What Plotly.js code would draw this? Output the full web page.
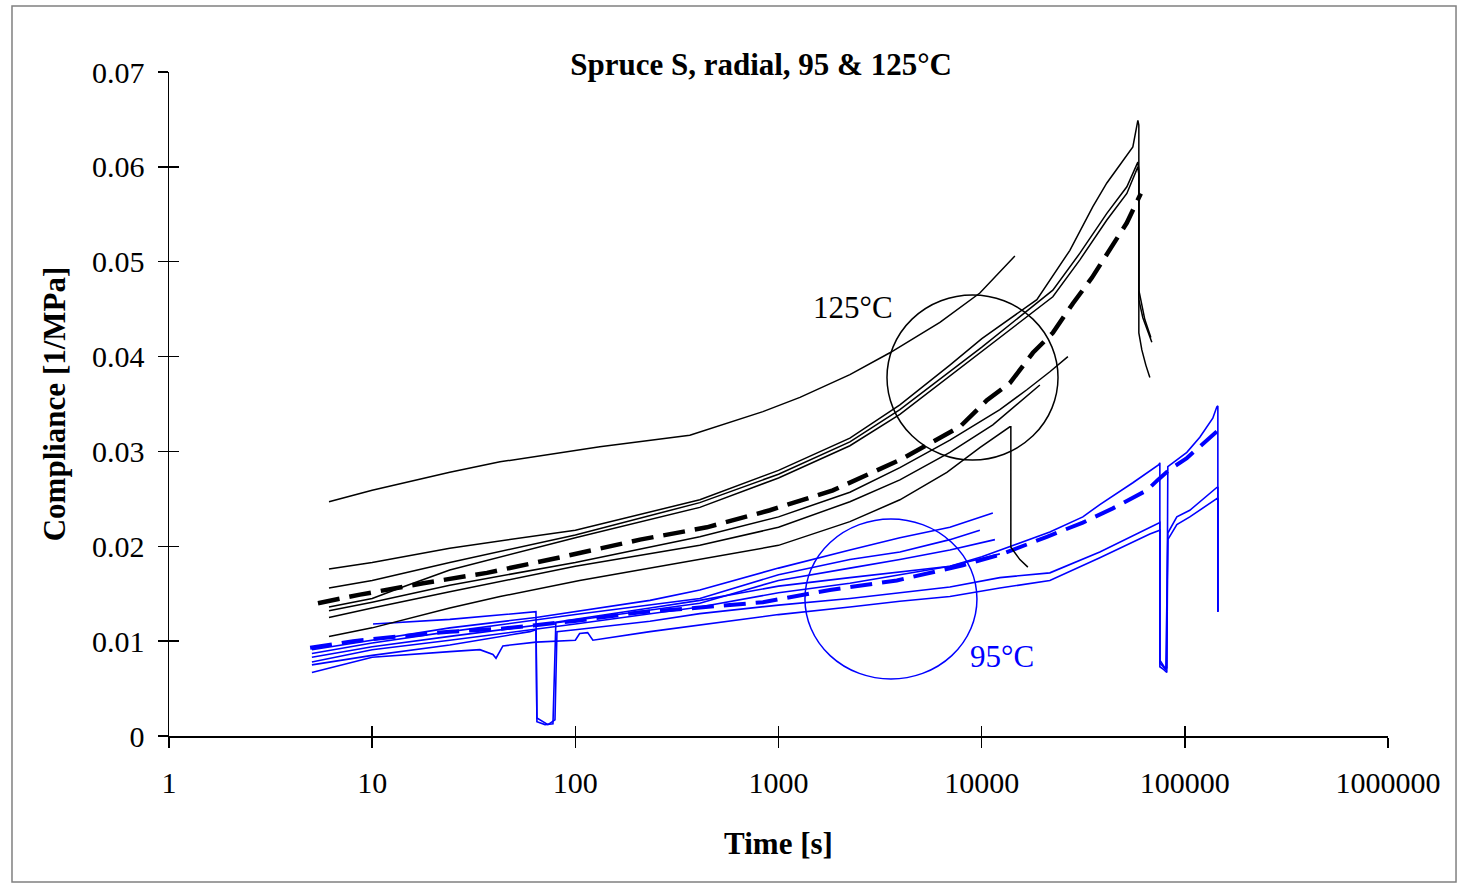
<!DOCTYPE html>
<html>
<head>
<meta charset="utf-8">
<script src="https://cdn.plot.ly/plotly-3.0.1.min.js"></script>
<style>html,body{margin:0;padding:0;background:#fff;}#chart{width:1458px;height:885px;}</style>
</head>
<body>
<div id="chart"></div>
<script>
// ---- 125 °C (black) ----
const t_b1 = [6.13, 10, 24.1, 42.6, 132, 366, 838, 1275, 2246, 3534, 6229, 9797, 14570];
const c_b1 = [0.0247, 0.0259, 0.0278, 0.0289, 0.0305, 0.0317, 0.0342, 0.0357, 0.0381, 0.0404, 0.0436, 0.0467, 0.0506];

const t_g1 = [6.13, 10, 24.1, 100, 410, 1000, 2246, 3958, 6976, 10020, 18690, 27180, 35260, 41320, 47880, 55480, 58720, 59380, 59380, 61430, 64280, 67270];
const c_g1 = [0.0176, 0.0183, 0.0198, 0.0217, 0.0249, 0.0280, 0.0314, 0.0349, 0.0391, 0.0419, 0.0460, 0.0512, 0.0558, 0.0583, 0.0602, 0.0621, 0.0649, 0.0644, 0.0425, 0.0407, 0.0391, 0.0378];

const t_g2 = [6.13, 10, 24.1, 100, 410, 1000, 2246, 3958, 10020, 22400, 30440, 41320, 51830, 58720, 59380, 59380, 62130, 65760, 68810];
const c_g2 = [0.0156, 0.0164, 0.0183, 0.0212, 0.0246, 0.0276, 0.0310, 0.0344, 0.0410, 0.0470, 0.0509, 0.0551, 0.0579, 0.0605, 0.0597, 0.0460, 0.0441, 0.0426, 0.0415];

const t_g3 = [6.13, 10, 13.7, 24.1, 100, 410, 1000, 2246, 3958, 10020, 22400, 30440, 41320, 51830, 58720, 59380, 59380, 63550, 68040];
const c_g3 = [0.0136, 0.0145, 0.0156, 0.0175, 0.0209, 0.0241, 0.0272, 0.0306, 0.0339, 0.0405, 0.0463, 0.0502, 0.0544, 0.0572, 0.0600, 0.0592, 0.0470, 0.0439, 0.0420];

const t_l1 = [6.13, 10, 24.1, 100, 410, 1000, 2246, 3958, 6976, 12290, 16690, 21660, 26570];
const c_l1 = [0.0132, 0.0141, 0.0159, 0.0183, 0.0210, 0.0231, 0.0257, 0.0283, 0.0312, 0.0344, 0.0365, 0.0384, 0.0400];

const t_l2 = [6.13, 10, 24.1, 100, 410, 1000, 2246, 3958, 6976, 11350, 19340];
const c_l2 = [0.0125, 0.0135, 0.0152, 0.0179, 0.0201, 0.0220, 0.0247, 0.0270, 0.0299, 0.0328, 0.0370];

const t_l3 = [6.13, 10, 24.1, 42.6, 105, 327, 1000, 2246, 3958, 6741, 9797, 13760, 13920, 13920, 14570, 15420, 16880];
const c_l3 = [0.0105, 0.0114, 0.0135, 0.0147, 0.0164, 0.0183, 0.0201, 0.0226, 0.0249, 0.0278, 0.0304, 0.0326, 0.0326, 0.0199, 0.0193, 0.0186, 0.0178];

const t_mean125 = [5.41, 8.71, 17.8, 36.7, 75.0, 208, 444, 907, 1852, 3958, 7812, 10610, 13760, 17870, 22400, 28110, 34860, 41800, 51830, 60740];
const c_mean125 = [0.0140, 0.0149, 0.0161, 0.0172, 0.0186, 0.0207, 0.0220, 0.0238, 0.0259, 0.0291, 0.0326, 0.0354, 0.0372, 0.0404, 0.0425, 0.0456, 0.0483, 0.0509, 0.0541, 0.0572];

// ---- 95 °C (blue) ----
const t_a1 = [5.05, 10, 24.1, 64.0, 100, 233, 410, 1000, 2246, 3958, 6976, 11350];
const c_a1 = [0.0091, 0.0101, 0.0114, 0.0125, 0.0131, 0.0143, 0.0154, 0.0177, 0.0196, 0.0209, 0.0220, 0.0235];

const t_a2 = [5.05, 10, 24.1, 100, 410, 1000, 2246, 3958, 6976, 9797];
const c_a2 = [0.0087, 0.0098, 0.0110, 0.0128, 0.0145, 0.0170, 0.0186, 0.0194, 0.0207, 0.0217];

const t_a3 = [5.05, 10, 24.1, 100, 410, 1000, 2246, 3958, 6976, 11620];
const c_a3 = [0.0083, 0.0094, 0.0105, 0.0122, 0.0140, 0.0164, 0.0177, 0.0186, 0.0196, 0.0207];

const t_a4 = [5.05, 10, 24.1, 100, 410, 1000, 2246, 3958, 6976, 12290];
const c_a4 = [0.0078, 0.0091, 0.0101, 0.0118, 0.0136, 0.0151, 0.0161, 0.0170, 0.0179, 0.0192];

const t_u = [10.1, 24.1, 64.0, 64.7, 70.9, 77.6, 80.2, 100, 233, 410, 1000, 2246, 3958, 6976, 10020, 13760, 21660, 31480, 38160, 55480, 74470, 75340, 75340, 78810, 81530, 82460, 102300, 118500, 137300, 143700, 145400, 145400];
const c_u = [0.0118, 0.0123, 0.0131, 0.0015, 0.0012, 0.0013, 0.0120, 0.0123, 0.0135, 0.0143, 0.0158, 0.0167, 0.0173, 0.0179, 0.0189, 0.0200, 0.0215, 0.0231, 0.0244, 0.0267, 0.0286, 0.0288, 0.0073, 0.0070, 0.0067, 0.0284, 0.0299, 0.0315, 0.0335, 0.0347, 0.0348, 0.0131];

const t_p1 = [5.05, 10, 24.1, 59.8, 64.0, 64.7, 73.3, 79.4, 81.2, 100, 233, 410, 1000, 2246, 3958, 6976, 12290, 21660, 38160, 67270, 74470, 75340, 75340, 79700, 81530, 82460, 91330, 105800, 143700, 145400, 145400];
const c_p1 = [0.0075, 0.0085, 0.0096, 0.0110, 0.0112, 0.0019, 0.0012, 0.0017, 0.0110, 0.0112, 0.0121, 0.0129, 0.0138, 0.0145, 0.0151, 0.0157, 0.0167, 0.0172, 0.0194, 0.0220, 0.0225, 0.0225, 0.0080, 0.0072, 0.0072, 0.0214, 0.0231, 0.0238, 0.0262, 0.0262, 0.0131];

const t_p2 = [5.05, 10, 24.1, 33.9, 39.3, 40.7, 44.0, 64.0, 100, 105, 115, 122, 233, 410, 1000, 2246, 3958, 6976, 12290, 21660, 38160, 67270, 74470, 75340, 75340, 80610, 82460, 91330, 105800, 143700, 145400, 145400];
const c_p2 = [0.0067, 0.0083, 0.0089, 0.0091, 0.0086, 0.0082, 0.0095, 0.0099, 0.0101, 0.0108, 0.0109, 0.0101, 0.0110, 0.0117, 0.0128, 0.0136, 0.0142, 0.0147, 0.0156, 0.0164, 0.0188, 0.0213, 0.0217, 0.0217, 0.0077, 0.0070, 0.0207, 0.0223, 0.0231, 0.0251, 0.0251, 0.0131];

const t_mean95 = [4.95, 8.05, 13.7, 24.1, 42.6, 97.3, 201, 410, 838, 1791, 3825, 8083, 12290, 20940, 31480, 44230, 65020, 73640, 84360, 102300, 122600, 143700];
const c_mean95 = [0.0093, 0.0100, 0.0105, 0.0110, 0.0113, 0.0121, 0.0130, 0.0135, 0.0141, 0.0154, 0.0164, 0.0180, 0.0191, 0.0210, 0.0225, 0.0240, 0.0259, 0.0270, 0.0281, 0.0293, 0.0308, 0.0321];

// ---- axis ticks ----
const xTickVals = [1, 10, 100, 1000, 10000, 100000, 1000000];
const xTickText = ['1', '10', '100', '1000', '10000', '100000', '1000000'];
const yTickVals = [0, 0.01, 0.02, 0.03, 0.04, 0.05, 0.06, 0.07];
const yTickText = ['0', '0.01', '0.02', '0.03', '0.04', '0.05', '0.06', '0.07'];

const BLACK = '#000000', BLUE = '#0000FF';
const FONT = 'Liberation Serif, Times New Roman, serif';

function line(t, c, color, width, dash) {
  return {x: t, y: c, type: 'scatter', mode: 'lines', hoverinfo: 'skip', showlegend: false,
          line: {color: color, width: width, dash: dash || 'solid'}};
}

const traces = [
  line(t_a1, c_a1, BLUE, 1.6), line(t_a2, c_a2, BLUE, 1.6), line(t_a3, c_a3, BLUE, 1.6),
  line(t_a4, c_a4, BLUE, 1.6), line(t_u, c_u, BLUE, 1.6), line(t_p1, c_p1, BLUE, 1.6),
  line(t_p2, c_p2, BLUE, 1.6),
  line(t_mean95, c_mean95, BLUE, 4, '22px,10px'),
  line(t_b1, c_b1, BLACK, 1.5), line(t_g1, c_g1, BLACK, 1.5), line(t_g2, c_g2, BLACK, 1.5),
  line(t_g3, c_g3, BLACK, 1.5), line(t_l1, c_l1, BLACK, 1.5), line(t_l2, c_l2, BLACK, 1.5),
  line(t_l3, c_l3, BLACK, 1.5),
  line(t_mean125, c_mean125, BLACK, 4.5, '22px,10px'),
  {x: [], y: [], xaxis: 'x2', yaxis: 'y2', type: 'scatter', mode: 'lines', showlegend: false, hoverinfo: 'skip'}
];

const axBase = {showgrid: false, zeroline: false, tickcolor: BLACK, tickwidth: 1.5, ticklen: 10};

const layout = {
  width: 1458, height: 885,
  margin: {l: 169, r: 70, t: 72, b: 149},
  paper_bgcolor: '#ffffff', plot_bgcolor: '#ffffff',
  showlegend: false,
  font: {family: FONT, color: BLACK},
  title: {text: '<b>Spruce S, radial, 95 &amp; 125°C</b>', font: {family: FONT, size: 31, color: BLACK},
          x: 0.522, xanchor: 'center', xref: 'container', y: 0.928, yanchor: 'middle', yref: 'container'},
  xaxis: Object.assign({}, axBase, {
    type: 'log', range: [0, 6], tickmode: 'array', tickvals: xTickVals, ticktext: xTickText,
    ticks: 'outside', showline: true, linecolor: BLACK, linewidth: 1.5,
    tickfont: {family: FONT, size: 30, color: BLACK}, ticklabelstandoff: 9,
    title: {text: '<b>Time [s]</b>', font: {family: FONT, size: 31, color: BLACK}, standoff: 35}
  }),
  yaxis: Object.assign({}, axBase, {
    range: [0, 0.07], tickmode: 'array', tickvals: yTickVals, ticktext: yTickText,
    ticks: 'outside', showline: true, linecolor: BLACK, linewidth: 1.5,
    tickfont: {family: FONT, size: 30, color: BLACK}, ticklabelstandoff: 7,
    title: {text: '<b>Compliance [1/MPa]</b>', font: {family: FONT, size: 31, color: BLACK}, standoff: 17}
  }),
  xaxis2: Object.assign({}, axBase, {
    type: 'log', range: [0, 6], tickmode: 'array', tickvals: xTickVals, overlaying: 'x', anchor: 'y',
    side: 'bottom', ticks: 'inside', showticklabels: false, showline: false
  }),
  yaxis2: Object.assign({}, axBase, {
    range: [0, 0.07], tickmode: 'array', tickvals: yTickVals, overlaying: 'y', anchor: 'x',
    side: 'left', ticks: 'inside', showticklabels: false, showline: false
  }),
  shapes: [
    {type: 'rect', xref: 'paper', yref: 'paper', x0: -0.1288, x1: 1.0558, y0: -0.2199, y1: 1.0994,
     line: {color: '#808080', width: 1.5}, fillcolor: 'rgba(0,0,0,0)', layer: 'below'},
    {type: 'circle', xref: 'paper', yref: 'paper', x0: 0.589, x1: 0.7293, y0: 0.4157, y1: 0.6642,
     line: {color: BLACK, width: 1.5}},
    {type: 'circle', xref: 'paper', yref: 'paper', x0: 0.5217, x1: 0.6628, y0: 0.0858, y1: 0.3268,
     line: {color: BLUE, width: 1.5}}
  ],
  annotations: [
    {text: '125°C', x: 3.366, y: 0.0452, xref: 'x', yref: 'y', showarrow: false,
     font: {family: FONT, size: 31, color: BLACK}, xanchor: 'center', yanchor: 'middle'},
    {text: '95°C', x: 4.099, y: 0.00833, xref: 'x', yref: 'y', showarrow: false,
     font: {family: FONT, size: 31, color: BLUE}, xanchor: 'center', yanchor: 'middle'}
  ]
};

Plotly.newPlot('chart', traces, layout, {displayModeBar: false, staticPlot: true});
</script>
</body>
</html>
